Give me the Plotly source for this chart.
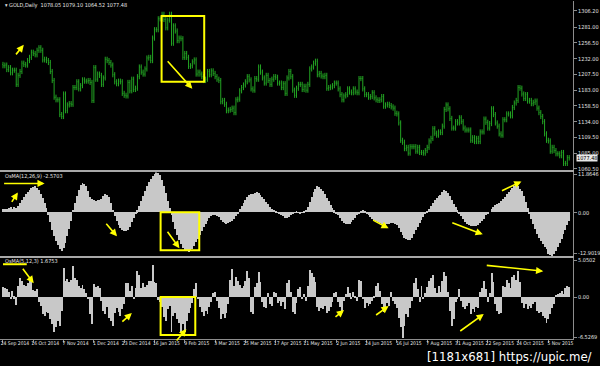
import plotly.graph_objects as go

# ------------------------------------------------------------------ data
date_labels = ["24 Sep 2014", "16 Oct 2014", "7 Nov 2014", "1 Dec 2014", "23 Dec 2014",
               "16 Jan 2015", "9 Feb 2015", "3 Mar 2015", "25 Mar 2015", "17 Apr 2015",
               "11 May 2015", "2 Jun 2015", "24 Jun 2015", "16 Jul 2015", "7 Aug 2015",
               "31 Aug 2015", "22 Sep 2015", "14 Oct 2015", "5 Nov 2015"]
bars_per_label = 16

price_ticks = [1306.20, 1281.00, 1256.50, 1232.00, 1207.50, 1183.00,
               1158.50, 1134.00, 1109.50, 1085.00, 1060.50]

first_open = 1223.0
closes = (
    [1221, 1222, 1215, 1218, 1210, 1214, 1214, 1192, 1206, 1212, 1225, 1223, 1222, 1229, 1234, 1242] +
    [1240, 1238, 1245, 1249, 1245, 1230, 1231, 1229, 1226, 1212, 1198, 1172, 1168, 1168, 1145, 1142] +
    [1177, 1151, 1160, 1162, 1161, 1187, 1187, 1196, 1185, 1190, 1199, 1197, 1197, 1198, 1195, 1167] +
    [1218, 1200, 1208, 1206, 1192, 1202, 1231, 1229, 1226, 1222, 1207, 1196, 1193, 1197, 1196, 1178] +
    [1175, 1174, 1195, 1182, 1200, 1184, 1186, 1204, 1219, 1211, 1208, 1216, 1233, 1234, 1229, 1264] +
    [1277, 1277, 1294, 1294, 1301, 1293, 1280, 1292, 1301, 1256, 1283, 1275, 1260, 1264, 1263, 1234] +
    [1240, 1234, 1220, 1221, 1227, 1230, 1208, 1211, 1208, 1204, 1198, 1200, 1212, 1207, 1213, 1209] +
    [1204, 1200, 1198, 1165, 1167, 1161, 1151, 1152, 1153, 1155, 1148, 1168, 1169, 1182, 1187, 1191] +
    [1196, 1204, 1199, 1185, 1183, 1201, 1200, 1219, 1211, 1202, 1194, 1206, 1198, 1192, 1200, 1204] +
    [1203, 1194, 1194, 1187, 1193, 1178, 1202, 1212, 1204, 1183, 1175, 1186, 1192, 1192, 1184, 1189] +
    [1183, 1192, 1216, 1219, 1225, 1228, 1207, 1209, 1205, 1204, 1206, 1186, 1187, 1188, 1190, 1194] +
    [1194, 1185, 1176, 1168, 1174, 1176, 1185, 1180, 1179, 1185, 1180, 1179, 1201, 1201, 1185, 1176] +
    [1176, 1172, 1173, 1179, 1171, 1168, 1167, 1168, 1173, 1158, 1160, 1161, 1159, 1157, 1155, 1147] +
    [1146, 1132, 1105, 1102, 1092, 1094, 1085, 1095, 1095, 1095, 1088, 1094, 1086, 1086, 1085, 1089] +
    [1094, 1104, 1108, 1123, 1116, 1113, 1118, 1117, 1127, 1153, 1160, 1154, 1139, 1124, 1124, 1134] +
    [1132, 1140, 1134, 1124, 1121, 1121, 1121, 1105, 1109, 1103, 1108, 1103, 1118, 1118, 1138, 1133] +
    [1124, 1131, 1154, 1145, 1132, 1127, 1115, 1113, 1137, 1137, 1146, 1146, 1143, 1156, 1163, 1167] +
    [1187, 1186, 1177, 1170, 1176, 1166, 1167, 1162, 1164, 1166, 1155, 1148, 1142, 1134, 1115, 1105] +
    [1104, 1088, 1094, 1089, 1084, 1084, 1081, 1086, 1069, 1069, 1078.05, 1077.48]
)
wick = 4.0

osma_slow = (
    [0.8, 1.0, 0.9, 1.2, 1.4, 1.0, 1.5, 1.2, 1.8, 2.6, 3.6, 4.5, 5.3, 6.0, 6.7, 7.2] +
    [7.5, 7.6, 7.3, 6.6, 5.5, 4.2, 2.8, 1.2, -0.8, -3.0, -5.2, -7.0, -8.6, -9.8, -10.8, -11.4] +
    [-10.6, -9.2, -7.2, -5.0, -2.6, 0.6, 2.8, 4.8, 6.6, 7.9, 8.5, 8.4, 7.6, 6.2, 4.6, 3.8] +
    [3.6, 3.4, 3.7, 3.5, 3.9, 4.8, 5.3, 5.2, 4.4, 2.6, 0.6, -1.2, -2.6, -3.8, -4.6, -5.3] +
    [-5.6, -5.7, -5.2, -4.3, -3.0, -1.8, -0.6, 0.5, 1.8, 3.2, 4.7, 6.2, 7.6, 8.8, 9.8, 10.6] +
    [11.3, 11.8646, 11.7, 11.0, 9.6, 7.8, 5.6, 3.4, 1.2, -0.9, -3.0, -5.0, -6.8, -8.3, -9.6, -10.6] +
    [-11.2, -11.6, -11.7, -11.4, -10.8, -10.0, -9.0, -7.9, -6.8, -5.6, -4.5, -3.4, -2.5, -1.7, -1.2, -0.9] +
    [-1.0, -1.2, -1.4, -2.2, -2.8, -3.2, -3.4, -3.3, -3.0, -2.6, -2.0, -1.2, -0.3, 0.8, 1.8, 2.8] +
    [3.7, 4.6, 5.2, 5.4, 5.5, 5.8, 6.0, 5.7, 5.2, 4.6, 3.8, 3.0, 2.3, 1.6, 1.0, 0.6] +
    [0.3, -0.2, -0.6, -1.0, -1.3, -1.6, -1.8, -1.5, -1.0, -0.5, -0.2, 0.1, -0.1, -0.3, -0.2, 0.1] +
    [0.6, 1.5, 3.0, 4.6, 6.0, 7.0, 7.6, 7.5, 7.0, 6.2, 5.3, 4.2, 3.2, 2.2, 1.3, 0.5] +
    [-0.3, -1.0, -1.8, -2.6, -3.2, -3.5, -3.6, -3.4, -2.9, -2.3, -1.6, -1.0, -0.3, 0.3, 0.5, 0.2] +
    [-0.4, -1.0, -1.5, -2.0, -2.4, -2.6, -2.8, -3.2, -3.4, -3.6, -3.7, -3.5, -3.4, -3.3, -3.3, -3.5] +
    [-3.8, -4.6, -5.8, -6.8, -7.6, -8.0, -8.3, -8.2, -7.6, -6.6, -5.4, -4.3, -3.2, -2.2, -1.4, -0.6] +
    [0.2, 1.0, 1.8, 2.8, 3.6, 4.2, 4.8, 5.2, 5.9, 6.5, 6.4, 5.8, 4.8, 3.6, 2.4, 1.4] +
    [0.5, -0.4, -1.2, -2.0, -2.8, -3.4, -3.8, -4.1, -4.2, -4.2, -4.0, -3.7, -3.3, -2.7, -1.9, -1.0] +
    [-0.6, 0.0, 0.9, 1.6, 2.0, 2.3, 2.6, 3.2, 3.9, 4.6, 5.4, 6.1, 6.7, 7.2, 7.6, 7.9] +
    [7.6, 7.0, 6.3, 4.8, 3.0, 1.2, -0.5, -2.0, -3.5, -5.0, -6.4, -7.6, -8.7, -9.6, -10.4, -11.0] +
    [-12.3, -12.7, -12.9019, -12.5, -11.6, -10.5, -9.3, -8.0, -6.6, -5.2, -3.9, -2.5703]
)

osma_fast = (
    [1.6, 1.5, 1.2, 0.8, -0.4, 1.0, -0.3, -1.3, 1.8, 3.1, 2.6, 2.0, 1.7, 2.2, 2.5, 2.9] +
    [1.1, 0.9, 1.2, -0.8, -1.5, -2.8, -3.0, -2.4, -2.6, -3.6, -4.4, -5.6, -4.8, -3.9, -4.6, -2.2] +
    [4.7, 2.6, 2.9, 2.4, 2.7, 5.0, 3.1, 2.8, 1.8, 1.4, 2.0, 1.2, 0.6, -0.4, -2.8, -4.4] +
    [2.1, 1.6, 1.8, 1.5, -0.6, -2.2, -2.8, -1.6, -3.4, -3.8, -4.7, -2.6, -1.8, -2.4, -3.0, -2.0] +
    [-1.2, 2.3, 2.2, 1.0, 1.8, -0.4, 1.5, 4.2, 3.6, 1.5, 2.3, 1.6, 1.9, 2.5, 2.6, 5.0502] +
    [2.4, 2.2, -0.5, -0.8, -1.6, -3.2, -3.8, -2.0, -1.4, -5.6, -3.0, -2.6, -3.6, -4.2, -5.6, -4.4] +
    [-5.6, -3.8, -2.6, -1.8, -1.0, 1.3, 2.3, -0.4, -1.6, -2.4, -3.0, -2.2, -2.8, -1.6, -0.8, 0.6] +
    [0.8, -0.6, -1.8, -3.6, -2.8, -3.4, -2.6, -1.2, 2.8, 4.5, 1.8, 3.2, 2.6, 2.0, 1.4, 1.8] +
    [2.6, 4.2, 3.0, -2.4, -2.8, 1.6, 2.2, 4.0, 2.4, -0.8, -1.6, -1.8, 0.6, -1.2, -1.4, 0.8] +
    [0.6, -1.0, -0.6, -1.4, -0.8, -2.0, 2.2, 2.8, 0.8, -2.4, -2.8, -1.0, 1.2, 1.6, -0.4, 0.4] +
    [-0.6, 1.8, 4.4, 3.8, 3.2, 2.4, -1.6, -2.2, -1.8, -2.0, -1.4, -2.6, -2.2, -1.6, -0.8, 0.6] +
    [0.8, -0.8, -1.6, -2.2, -0.6, 0.4, 1.6, 0.6, -0.4, 0.8, -0.2, -0.6, 2.8, 2.6, -0.4, -1.8] +
    [-1.0, -1.4, -1.2, -0.6, -0.2, 1.8, 2.2, 1.0, -1.2, -2.4, -1.8, -1.0, -1.4, 0.8, -0.6, -1.2] +
    [-1.8, -3.4, -4.8, -6.5269, -4.6, -2.8, -3.2, -1.8, -0.6, 2.2, 3.0, 1.2, -0.8, 1.8, -0.4, 0.6] +
    [1.6, 2.6, 3.0, 3.6, 1.4, 0.6, 1.8, 0.8, 2.6, 4.0, 3.4, 0.8, -2.2, -4.7, -3.6, -0.8] +
    [-0.4, 1.2, -0.6, -1.6, -2.0, -1.4, -1.0, -2.8, -2.0, -2.4, -1.6, -1.8, 0.8, 1.4, 2.6, 1.2] +
    [-0.8, 0.6, 3.8, 2.4, -1.2, -2.2, -2.8, -2.6, 1.8, 1.6, 2.8, 2.2, 1.4, 3.2, 3.6, 2.8] +
    [4.2, 2.4, -1.0, -1.8, -1.2, -2.0, -1.4, -1.8, -1.2, -0.8, -2.2, -2.6, -2.4, -3.0, -3.4, -4.2] +
    [-3.6, -2.8, -1.8, -1.2, 0.3, 0.5, 0.7, 0.9, 0.4, 1.4, 1.8, 1.6753]
)

assert len(closes) == len(osma_slow) == len(osma_fast) == 300, (len(closes), len(osma_slow), len(osma_fast))

# ------------------------------------------------------------------ derived
n = len(closes)
idx = list(range(n))
opens = [first_open] + closes[:-1]
highs = [max(o, c) + wick for o, c in zip(opens, closes)]
lows = [min(o, c) - wick for o, c in zip(opens, closes)]
tick_pos = [i * bars_per_label for i in range(len(date_labels))]

# ------------------------------------------------------------------ style
W, H = 600, 366
R_MARGIN, B_MARGIN = 22, 27
PW, PH = W - R_MARGIN, H - B_MARGIN
GREEN = "#23a523"
HIST = "#c8c8c8"
AXC = "#8c8c8c"
SEP = "#a8a8a8"
YEL = "#ffff00"
TXT = "#e6e6e6"
FONT = "Liberation Sans Narrow, DejaVu Sans Condensed, Liberation Sans, sans-serif"

def pxx(x):
    return x / PW

def pyy(y):
    return (PH - y) / PH

XR = [-1.57, 301.0]

fig = go.Figure()
fig.add_trace(go.Ohlc(x=idx, open=opens, high=highs, low=lows, close=closes,
                      xaxis="x", yaxis="y", tickwidth=0.3,
                      increasing=dict(line=dict(color=GREEN, width=1)),
                      decreasing=dict(line=dict(color=GREEN, width=1)),
                      hoverinfo="skip", showlegend=False))
fig.add_trace(go.Bar(x=idx, y=osma_slow, xaxis="x2", yaxis="y2", width=0.5,
                     marker=dict(color=HIST, line=dict(width=0)), showlegend=False))
fig.add_trace(go.Bar(x=idx, y=osma_fast, xaxis="x3", yaxis="y3", width=0.5,
                     marker=dict(color=HIST, line=dict(width=0)), showlegend=False))

common_x = dict(range=XR, showgrid=False, zeroline=False, domain=[0, 1],
                fixedrange=True)
common_y = dict(side="right", showgrid=False, zeroline=False, showline=True,
                linecolor=AXC, linewidth=1, ticks="outside", ticklen=3,
                tickcolor=AXC, tickfont=dict(family=FONT, size=5.5, color=TXT))

fig.update_layout(
    width=W, height=H,
    margin=dict(l=0, r=R_MARGIN, t=0, b=B_MARGIN),
    paper_bgcolor="black", plot_bgcolor="black",
    bargap=0, barmode="overlay",
    xaxis=dict(common_x, anchor="y", showticklabels=False, ticks="",
               showline=True, linecolor=SEP, linewidth=2,
               rangeslider=dict(visible=False)),
    xaxis2=dict(common_x, anchor="y2", showticklabels=False, ticks="",
                showline=True, linecolor=SEP, linewidth=2),
    xaxis3=dict(common_x, anchor="y3", showline=True, linecolor=AXC, linewidth=1,
                tickmode="array", tickvals=tick_pos, ticktext=date_labels,
                ticks="outside", ticklen=3, tickcolor=AXC, tickangle=0,
                ticklabelshift=12, ticklabelstandoff=-4,
                tickfont=dict(family=FONT, size=5, color=TXT)),
    yaxis=dict(common_y, anchor="x", domain=[pyy(170), 1],
               range=[1058.0, 1321.7], tickmode="array", tickvals=price_ticks,
               ticktext=[f"{v:.2f}" for v in price_ticks]),
    yaxis2=dict(common_y, anchor="x2", domain=[pyy(256), pyy(172)],
                range=[-12.95, 11.9], tickmode="array",
                tickvals=[11.3, 0, -12.0],
                ticktext=[f"{max(osma_slow):.4f}", "0.00", f"{min(osma_slow):.4f}"]),
    yaxis3=dict(common_y, anchor="x3", domain=[0, pyy(258)],
                range=[-6.7, 6.25], tickmode="array",
                tickvals=[5.95, 0, -6.45],
                ticktext=[f"{max(osma_fast):.4f}", "0.00", f"{min(osma_fast):.4f}"]),
)

ann = []
def label(x, y, text, size=5.5, color=TXT, **kw):
    ann.append(dict(x=pxx(x), y=pyy(y), xref="paper", yref="paper", text=text,
                    showarrow=False, xanchor="left", yanchor="middle",
                    font=dict(family=FONT, size=size, color=color), **kw))

label(3, 5, "▾ GOLD,Daily  %.2f %.2f %.2f %.2f" % (opens[-1], 1079.10, 1064.52, closes[-1]))
label(3, 176, "OsMA(12,26,9) %.4f" % osma_slow[-1])
label(3, 261, "OsMA(5,12,3) %.4f" % osma_fast[-1])

# current price box
ann.append(dict(x=1, xref="paper", xanchor="left", xshift=3, y=closes[-1], yref="y",
                yanchor="middle", text="%.2f" % closes[-1], showarrow=False,
                bgcolor="#e8e8e8", borderpad=0,
                font=dict(family=FONT, size=5.5, color="black")))

# watermark
ann.append(dict(x=598 / PW, y=pyy(357), xref="paper", yref="paper", xanchor="right",
                yanchor="middle", text="[1181x681] https://upic.me/", showarrow=False,
                borderpad=0, font=dict(family=FONT, size=13, color="white")))

def arrow(x0, y0, x1, y1):
    ann.append(dict(x=pxx(x1), y=pyy(y1), xref="paper", yref="paper",
                    ax=x0 - x1, ay=y0 - y1, axref="pixel", ayref="pixel",
                    text="", showarrow=True, arrowhead=2, arrowsize=0.9,
                    arrowwidth=1.6, arrowcolor=YEL, standoff=0, startstandoff=0))

# panel 1
arrow(15, 55, 24, 44)
arrow(168, 59, 194, 88)
# panel 2
arrow(3, 183, 45, 183)
arrow(11, 203, 18, 192)
arrow(106, 222, 118, 236)
arrow(168, 230, 181, 248)
arrow(375, 219, 392, 228)
arrow(455, 222, 487, 234)
arrow(505, 191, 526, 181)
# panel 3
arrow(22, 267, 34, 283)
arrow(122, 323, 133, 313)
arrow(177, 342, 188, 329)
arrow(337, 318, 347, 310)
arrow(378, 316, 392, 306)
arrow(463, 332, 488, 314)
arrow(490, 265, 548, 271)

shapes = []
def rect(x0, y0, x1, y1):
    shapes.append(dict(type="rect", xref="paper", yref="paper",
                       x0=pxx(x0), x1=pxx(x1), y0=pyy(y1), y1=pyy(y0),
                       line=dict(color=YEL, width=2), fillcolor="rgba(0,0,0,0)"))

rect(163, 15, 206, 81)
rect(162, 212, 201, 250)
rect(162, 297, 197, 335)
shapes.append(dict(type="line", xref="paper", yref="paper",
                   x0=pxx(3), x1=pxx(27), y0=pyy(264), y1=pyy(264),
                   line=dict(color=YEL, width=2)))

fig.update_layout(annotations=ann, shapes=shapes)
fig.write_html("out.html")
